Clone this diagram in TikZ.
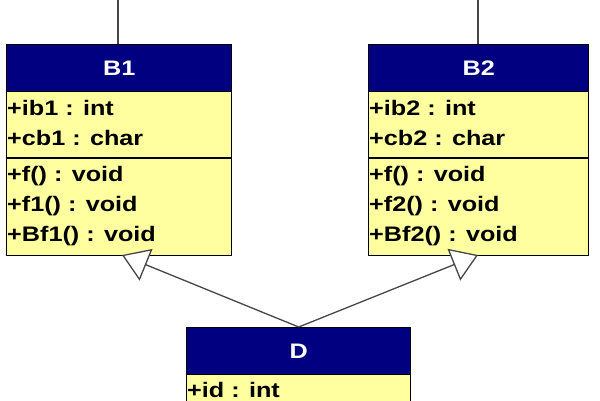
\documentclass[tikz,border=0pt]{standalone}
\usepackage{fontspec}
\newfontfamily\umlfont[FakeStretch=1.2]{Liberation Sans}
\usetikzlibrary{arrows.meta}
\definecolor{hdrblue}{RGB}{0,0,128}
\definecolor{bodyyel}{RGB}{255,255,160}
\definecolor{linegray}{RGB}{70,70,70}
\tikzset{
  hdr/.style={draw=black, line width=1.4pt, fill=hdrblue, text=white, anchor=north west, inner sep=0pt,
    font=\umlfont\bfseries\fontsize{21}{25}\selectfont},
  sec/.style={draw=black, line width=1.4pt, fill=bodyyel, anchor=north west, inner sep=0pt},
  txt/.style={anchor=base west, inner sep=0pt, text=black, font=\umlfont\bfseries\fontsize{21}{25}\selectfont},
  inh/.style={draw=linegray, line width=1.3pt, -{Triangle[open, length=26pt, width=34pt, fill=white, line width=1.3pt]}},
  topline/.style={draw=linegray, line width=1.5pt}
}
\begin{document}
\begin{tikzpicture}[x=1pt, y=-1pt]
\useasboundingbox (0,0) rectangle (600,400);
\clip (0,0) rectangle (600,400);
% B1
\node[sec, minimum width=225pt, minimum height=164pt] (B1body) at (6,91) {};
\node[hdr, minimum width=225pt, minimum height=47pt] (B1) at (6,44) {B1};
\coordinate (B1sepL) at (6,158);
\coordinate (B1sepR) at (231,158);
\draw[line width=1.4pt] (B1sepL) -- (B1sepR);
\node[txt] (B1a1) at (7,115) {+ib1 : int};
\node[txt] (B1a2) at (7,145) {+cb1 : char};
\node[txt] (B1m1) at (7,181) {+f() : void};
\node[txt] (B1m2) at (7,211) {+f1() : void};
\node[txt] (B1m3) at (7,241) {+Bf1() : void};
\coordinate (B1top) at (118,0);
\draw[topline] (B1top) -- (B1.north -| B1top);
% B2
\node[sec, minimum width=220pt, minimum height=164pt] (B2body) at (368,91) {};
\node[hdr, minimum width=220pt, minimum height=47pt] (B2) at (368,44) {B2};
\coordinate (B2sepL) at (368,158);
\coordinate (B2sepR) at (588,158);
\draw[line width=1.4pt] (B2sepL) -- (B2sepR);
\node[txt] (B2a1) at (369,115) {+ib2 : int};
\node[txt] (B2a2) at (369,145) {+cb2 : char};
\node[txt] (B2m1) at (369,181) {+f() : void};
\node[txt] (B2m2) at (369,211) {+f2() : void};
\node[txt] (B2m3) at (369,241) {+Bf2() : void};
\coordinate (B2top) at (478,0);
\draw[topline] (B2top) -- (B2.north -| B2top);
% D
\node[sec, minimum width=224pt, minimum height=60pt] (Dbody) at (186,374) {};
\node[hdr, minimum width=224pt, minimum height=47pt] (D) at (186,327) {D};
\node[txt] (Da1) at (187,397) {+id : int};
% inheritance
\coordinate (tip1) at (122,255);
\coordinate (tip2) at (478,255);
\draw[inh] (D.north) -- (tip1);
\draw[inh] (D.north) -- (tip2);
\end{tikzpicture}
\end{document}
